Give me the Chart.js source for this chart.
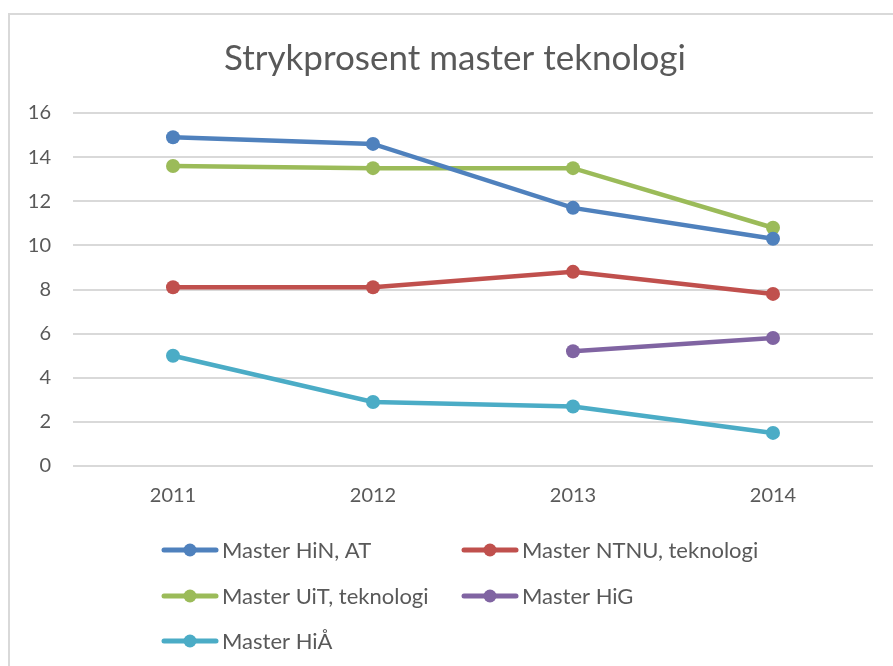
<!DOCTYPE html>
<html><head><meta charset="utf-8">
<script src="https://cdn.jsdelivr.net/npm/chart.js@4/dist/chart.umd.min.js"></script>
<style>
html,body{margin:0;padding:0;background:#fff;overflow:hidden;}
#frame{position:absolute;left:8px;top:13px;width:920px;height:700px;border:2px solid #d9d9d9;box-sizing:border-box;}
#wrap{position:absolute;left:0;top:0;width:893px;height:666px;}
</style></head>
<body>
<div id="frame"></div>
<div id="wrap"><canvas id="c" width="893" height="666"></canvas></div>
<script>
const titleText = "Strykprosent master teknologi";
const years = ["2011", "2012", "2013", "2014"];
const seriesNames = ["Master HiN, AT", "Master NTNU, teknologi", "Master UiT, teknologi", "Master HiG", "Master HiÅ"];
const hinAT = [14.9, 14.6, 11.7, 10.3];
const ntnu = [8.1, 8.1, 8.8, 7.8];
const uit = [13.6, 13.5, 13.5, 10.8];
const hig = [null, null, 5.2, 5.8];
const hia = [5.0, 2.9, 2.7, 1.5];
const yTicks = [0, 2, 4, 6, 8, 10, 12, 14, 16];
const colors = ["#4F81BD", "#C0504D", "#9BBB59", "#8064A2", "#4BACC6"];

const textColor = "#595959";
const fontFam = "Lato, 'Open Sans', sans-serif";
const seriesValues = [hinAT, ntnu, uit, hig, hia];

const titlePlugin = {
  id: 'customTitle',
  afterDraw(chart) {
    const ctx = chart.ctx;
    ctx.save();
    ctx.fillStyle = textColor;
    ctx.font = "35px " + fontFam;
    ctx.textAlign = 'center';
    ctx.textBaseline = 'middle';
    ctx.fillText(titleText, 455, 59);
    ctx.restore();
  }
};

const legendPlugin = {
  id: 'gridLegend',
  afterDraw(chart) {
    const ctx = chart.ctx;
    const colX = [162, 462];
    const rowY = [550, 596, 641];
    chart.data.datasets.forEach((ds, i) => {
      const x = colX[i % 2], y = rowY[Math.floor(i / 2)];
      ctx.save();
      ctx.strokeStyle = ds.borderColor;
      ctx.lineWidth = 5;
      ctx.lineCap = 'round';
      ctx.beginPath();
      ctx.moveTo(x + 2, y);
      ctx.lineTo(x + 54, y);
      ctx.stroke();
      ctx.fillStyle = ds.borderColor;
      ctx.beginPath();
      ctx.arc(x + 28, y, 6.5, 0, Math.PI * 2);
      ctx.fill();
      ctx.fillStyle = textColor;
      ctx.font = "22px " + fontFam;
      ctx.textBaseline = 'middle';
      ctx.textAlign = 'left';
      ctx.fillText(ds.label, x + 60, y + 1);
      ctx.restore();
    });
  }
};

new Chart(document.getElementById('c'), {
  type: 'line',
  data: {
    labels: years,
    datasets: seriesNames.map((n, i) => ({
      label: n,
      data: seriesValues[i],
      borderColor: colors[i],
      backgroundColor: colors[i],
      borderWidth: 4.5,
      pointRadius: 7,
      pointHoverRadius: 7,
      pointBackgroundColor: colors[i],
      pointBorderWidth: 0,
      tension: 0,
      spanGaps: false
    }))
  },
  options: {
    responsive: false,
    animation: false,
    devicePixelRatio: 1,
    layout: { padding: { left: 0, right: 20, top: 113, bottom: 160 } },
    plugins: {
      legend: { display: false },
      tooltip: { enabled: false },
      title: { display: false }
    },
    scales: {
      x: {
        offset: true,
        grid: { display: false, drawTicks: false },
        border: { display: false },
        ticks: { color: textColor, font: { family: fontFam, size: 20 }, padding: 18 },
        afterFit(s) { s.height = 40; }
      },
      y: {
        min: 0, max: 16,
        afterBuildTicks(s) { s.ticks = yTicks.map(v => ({ value: v })); },
        grid: { color: '#d9d9d9', lineWidth: 2, drawTicks: false },
        border: { display: false },
        ticks: { color: textColor, font: { family: fontFam, size: 20 }, padding: 22 },
        afterFit(s) { s.width = 73; }
      }
    }
  },
  plugins: [titlePlugin, legendPlugin]
});
</script>
</body></html>
